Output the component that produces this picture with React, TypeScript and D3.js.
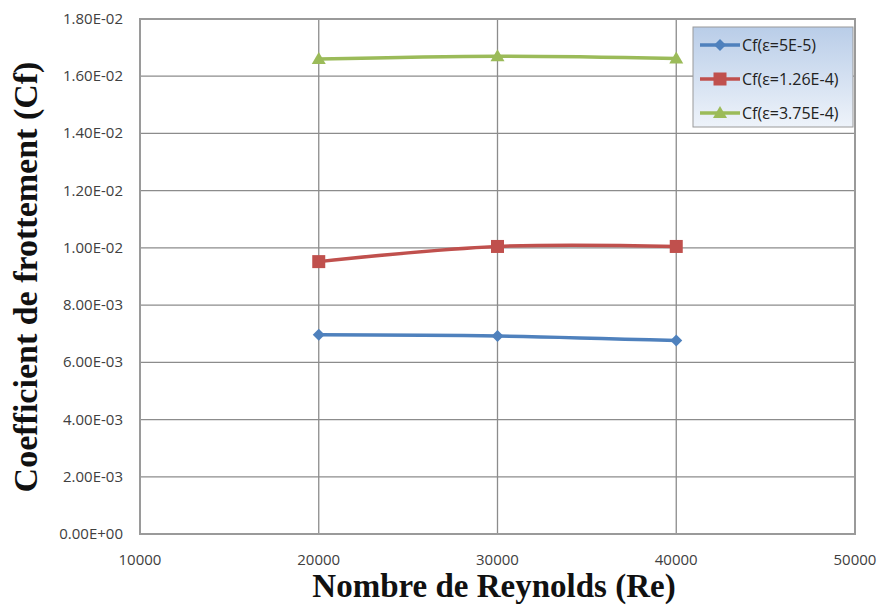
import React from "react";
import * as d3 from "d3";

const reynolds = [20000, 30000, 40000];
const cfSmall = [0.00696, 0.00692, 0.00676];
const cfMedium = [0.00952, 0.01005, 0.01005];
const cfLarge = [0.0166, 0.0167, 0.01662];
const seriesNames = ["Cf(ε=5E-5)", "Cf(ε=1.26E-4)", "Cf(ε=3.75E-4)"];
const seriesColors = ["#4f81bd", "#c0504d", "#9bbb59"];
const xTicks = [10000, 20000, 30000, 40000, 50000];
const yTicks = [0, 0.002, 0.004, 0.006, 0.008, 0.01, 0.012, 0.014, 0.016, 0.018];

const W = 882;
const H = 606;
const plot = { left: 140, right: 855, top: 19, bottom: 534 };

export default function App() {
  const x = d3.scaleLinear().domain([10000, 50000]).range([plot.left, plot.right]);
  const y = d3.scaleLinear().domain([0, 0.018]).range([plot.bottom, plot.top]);
  const series = [cfSmall, cfMedium, cfLarge];
  const line = d3
    .line<[number, number]>()
    .x((d) => x(d[0]))
    .y((d) => y(d[1]))
    .curve(d3.curveCatmullRom.alpha(0.5));

  const fmt = (v: number) => {
    if (v === 0) return "0.00E+00";
    const s = v.toExponential(2).toUpperCase();
    const [m, e] = s.split("E");
    const sign = e[0] === "-" ? "-" : "+";
    const num = e.replace(/[+-]/, "").padStart(2, "0");
    return `${m}E${sign}${num}`;
  };

  const marker = (i: number, cx: number, cy: number, key: string) => {
    const c = seriesColors[i];
    if (i === 0) {
      const r = 6;
      return (
        <path key={key} d={`M${cx},${cy - r}L${cx + r},${cy}L${cx},${cy + r}L${cx - r},${cy}Z`} fill={c} />
      );
    }
    if (i === 1) {
      return <rect key={key} x={cx - 6.5} y={cy - 6.5} width={13} height={13} fill={c} />;
    }
    return (
      <path key={key} d={`M${cx},${cy - 7}L${cx + 7},${cy + 5}L${cx - 7},${cy + 5}Z`} fill={c} />
    );
  };

  const legend = { x: 693, y: 27, w: 160, h: 100 };
  const legendRows = [45, 79, 113];

  return (
    <svg
      width={W}
      height={H}
      style={{ position: "absolute", left: 0, top: 0, background: "#fff" }}
      fontFamily="'Open Sans', 'DejaVu Sans', sans-serif"
    >
      <defs>
        <linearGradient id="lg" x1="0" y1="0" x2="0" y2="1">
          <stop offset="0" stopColor="#b9cde8" />
          <stop offset="1" stopColor="#eef3fa" />
        </linearGradient>
      </defs>
      <rect x={0} y={0} width={W} height={H} fill="#fff" />
      {yTicks.map((t) => (
        <line key={"h" + t} x1={plot.left} x2={plot.right} y1={y(t)} y2={y(t)} stroke="#8c8c8c" strokeWidth={1.3} />
      ))}
      {xTicks.map((t) => (
        <line key={"v" + t} x1={x(t)} x2={x(t)} y1={plot.top} y2={plot.bottom} stroke="#8c8c8c" strokeWidth={1.3} />
      ))}
      <rect
        x={plot.left}
        y={plot.top}
        width={plot.right - plot.left}
        height={plot.bottom - plot.top}
        fill="none"
        stroke="#9a9a9a"
        strokeWidth={2}
      />
      {yTicks.map((t) => (
        <text key={"yl" + t} x={123} y={y(t) + 5} textAnchor="end" fontSize={15} fill="#404040">
          {fmt(t)}
        </text>
      ))}
      {xTicks.map((t) => (
        <text key={"xl" + t} x={x(t)} y={565} textAnchor="middle" fontSize={15} fill="#404040">
          {t}
        </text>
      ))}
      {series.map((vals, i) => {
        const pts = reynolds.map((r, j) => [r, vals[j]] as [number, number]);
        return (
          <g key={"s" + i}>
            <path d={line(pts) || ""} fill="none" stroke={seriesColors[i]} strokeWidth={3.5} />
            {pts.map((p, j) => marker(i, x(p[0]), y(p[1]), `m${i}-${j}`))}
          </g>
        );
      })}
      <rect x={legend.x} y={legend.y} width={legend.w} height={legend.h} fill="url(#lg)" stroke="#9a9a9a" strokeWidth={1} />
      {seriesNames.map((n, i) => (
        <g key={"lg" + i}>
          <line x1={700} x2={740} y1={legendRows[i]} y2={legendRows[i]} stroke={seriesColors[i]} strokeWidth={3.5} />
          {marker(i, 720, legendRows[i], "lm" + i)}
          <text x={742} y={legendRows[i] + 5.5} fontSize={16} fill="#222">
            {n}
          </text>
        </g>
      ))}
      <text
        x={494}
        y={597}
        textAnchor="middle"
        fontFamily="'Liberation Serif', 'DejaVu Serif', serif"
        fontWeight="bold"
        fontSize={33}
        fill="#111"
      >
        Nombre de Reynolds (Re)
      </text>
      <text
        transform={`translate(37, 277) rotate(-90)`}
        textAnchor="middle"
        fontFamily="'Liberation Serif', 'DejaVu Serif', serif"
        fontWeight="bold"
        fontSize={34}
        fill="#111"
      >
        Coefficient de frottement (Cf)
      </text>
    </svg>
  );
}
